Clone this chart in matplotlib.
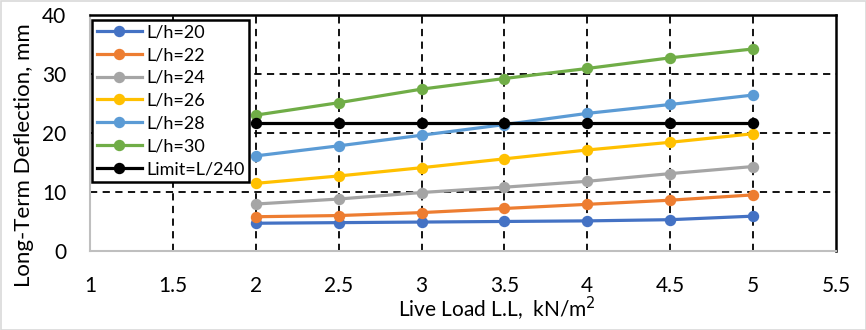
import matplotlib
matplotlib.use("Agg")
import matplotlib.pyplot as plt
from matplotlib.patches import Rectangle

plt.rcParams['font.family'] = ['Lato', 'DejaVu Sans']

live_load = [2, 2.5, 3, 3.5, 4, 4.5, 5]
lh20 = [4.7, 4.8, 4.9, 5.0, 5.1, 5.3, 5.9]
lh22 = [5.8, 6.0, 6.5, 7.2, 7.9, 8.6, 9.5]
lh24 = [7.95, 8.8, 9.9, 10.8, 11.8, 13.1, 14.3]
lh26 = [11.45, 12.7, 14.1, 15.6, 17.1, 18.4, 19.85]
lh28 = [16.1, 17.8, 19.6, 21.4, 23.3, 24.8, 26.4]
lh30 = [23.0, 25.1, 27.4, 29.2, 30.9, 32.7, 34.2]
limit = [21.6] * 7

labels = ['L/h=20', 'L/h=22', 'L/h=24', 'L/h=26', 'L/h=28', 'L/h=30', 'Limit=L/240']
colors = ['#4472C4', '#ED7D31', '#A5A5A5', '#FFC000', '#5B9BD5', '#70AD47', '#000000']
series = [lh20, lh22, lh24, lh26, lh28, lh30, limit]

x_ticks = [1, 1.5, 2, 2.5, 3, 3.5, 4, 4.5, 5, 5.5]
x_tick_labels = ['1', '1.5', '2', '2.5', '3', '3.5', '4', '4.5', '5', '5.5']
y_ticks = [0, 10, 20, 30, 40]

fig = plt.figure(figsize=(8.66, 3.30), dpi=100)
ax = fig.add_axes([90/866, 1 - 251/330, (836-90)/866, (251-14.7)/330])

for ys, c, lab in zip(series, colors, labels):
    ax.plot(live_load, ys, color=c, lw=2.3, marker='o', ms=7.2, label=lab, zorder=3)

ax.set_xlim(1, 5.5)
ax.set_ylim(0, 40)
ax.set_xticks(x_ticks)
ax.set_xticklabels(x_tick_labels)
ax.set_yticks(y_ticks)
ax.tick_params(length=0, labelsize=15)
ax.tick_params(axis='x', pad=18)
ax.tick_params(axis='y', pad=17)

for xv in x_ticks[1:-1]:
    ax.axvline(xv, color='black', ls=(0, (4, 3)), lw=1.3, zorder=1)
for yv in [10, 20, 30]:
    ax.axhline(yv, color='black', ls=(0, (4, 3)), lw=1.3, zorder=1)

ax.spines['left'].set_color('#BFBFBF')
ax.spines['bottom'].set_color('#BFBFBF')
ax.spines['left'].set_linewidth(1.5)
ax.spines['bottom'].set_linewidth(1.5)
ax.spines['top'].set_color('black')
ax.spines['right'].set_color('black')
ax.spines['top'].set_linewidth(1.8)
ax.spines['right'].set_linewidth(1.8)

fig.text(24/866, 1 - 155/330, 'Long-Term Deflection, mm', rotation=90,
         ha='center', va='center', fontsize=16)
fig.text(497/866, 1 - 317/330, 'Live Load L.L,  kN/m$^{2}$', ha='center',
         va='baseline', fontsize=15)

leg = ax.legend(loc='upper left', bbox_to_anchor=(2/746, 1 - 5/236.3), fontsize=13,
                frameon=True, fancybox=False, edgecolor='black', framealpha=1,
                borderpad=0.25, labelspacing=0.38, handlelength=2.5, handletextpad=0.25,
                borderaxespad=0)
leg.get_frame().set_linewidth(1.8)
leg.set_zorder(5)

fig.patches.append(Rectangle((0.5/866, 0.5/330), 1 - 1/866, 1 - 1/330, transform=fig.transFigure,
                             fill=False, edgecolor='#D9D9D9', lw=1.2))

fig.savefig('out.png', dpi=100)
